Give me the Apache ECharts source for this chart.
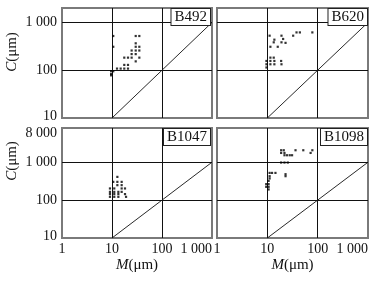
<!DOCTYPE html>
<html><head><meta charset="utf-8">
<script src="https://cdn.jsdelivr.net/npm/echarts@6/dist/echarts.min.js"></script>
<style>html,body{margin:0;padding:0;background:#fff}#c{width:380px;height:282px}</style>
</head><body><div id="c"></div>
<script>
// M (x) and C (y) values in µm
const panelNames = ['B492', 'B620', 'B1047', 'B1098'];
const xTickLabels = [1, 10, 100, 1000];
const yTickLabelsTop = [10, 100, 1000];
const yTickLabelsBottom = [10, 100, 1000, 8000];
const xRange = [1, 1000];
const yRangeTop = [10, 2000];
const yRangeBottom = [10, 8000];
const diagonal = [[10, 10], [1000, 1000]];

const b492 = [[10.6,519],[10.6,309],[29.8,519],[35.2,519],[29.8,365],[29.8,309],[35.2,309],
  [24.7,258],[29.8,258],[35.2,258],[24.7,217],[29.8,217],[17.6,183],[20.9,183],[24.7,183],
  [35.2,183],[29.8,153],[17.6,129],[20.9,129],[12.6,108],[14.9,108],[17.6,108],[20.9,108],
  [9.6,95],[10.6,95],[9.6,83],[9.6,78]];
const b620 = [[11.1,527],[19.1,527],[13.8,435],[20.6,450],[13.4,383],[19.1,383],[23,373],
  [11.5,309],[16.1,309],[32.6,527],[38,617],[44.3,617],[78.4,617],[11.5,183],[13.4,183],
  [9.6,156],[11.5,156],[13.8,156],[18.8,156],[9.6,133],[11.5,133],[13.8,133],[19.1,133],[9.6,114]];
const b1047 = [[12.8,410],[10.6,303],[12.8,303],[15.6,303],[12.8,248],[15.6,248],[9.1,203],
  [11.1,203],[15.6,203],[18.2,203],[9.1,165],[11.1,165],[13.4,165],[15.6,165],[9.1,144],
  [11.1,144],[13.4,144],[18.2,144],[9.1,122],[11.1,122],[13.4,122],[19.1,122]];
const b1098 = [[18.8,2070],[21.2,2070],[36.3,2070],[51.8,2070],[78.4,2070],[18.8,1757],
  [21.9,1757],[72.4,1757],[21.9,1528],[24.6,1528],[27.9,1528],[31,1528],[18.8,980],[21.9,980],
  [25.5,980],[11.1,522],[12.4,522],[14.5,522],[23,483],[11.1,428],[23,428],[11.1,373],
  [10.6,322],[9.5,264],[10.6,264],[9.5,224],[10.6,224],[10.6,191]];
const panelData = [b492, b620, b1047, b1098];

const FONT = '"Liberation Serif", "DejaVu Serif", serif';
const grids = [
  {left: 62, top: 8, width: 150, height: 110},
  {left: 217, top: 8, width: 151, height: 110},
  {left: 62, top: 128, width: 150, height: 110},
  {left: 217, top: 128, width: 151, height: 110}
].map(g => Object.assign(g, {show: true, borderColor: '#7a7a7a', borderWidth: 2, backgroundColor: '#fff'}));

function fmtFactory(allowed, topVal) {
  return function (v) {
    const r = Math.round(v);
    if (allowed.indexOf(r) < 0) return '';
    const s = r >= 1000 ? (r / 1000) + ' 000' : String(r);
    if (r === topVal) return '{t|' + s + '}';
    if (r === 10) return '{b|' + s + '}';
    return s;
  };
}
const labelRich = {
  t: {fontFamily: FONT, fontSize: 14, color: '#111', padding: [10, 0, 0, 0]},
  b: {fontFamily: FONT, fontSize: 14, color: '#111', padding: [0, 0, 4, 0]}
};
const splitLine = {show: true, showMinLine: false, showMaxLine: false, lineStyle: {color: '#111', width: 1}};

const xAxes = [0, 1, 2, 3].map(i => {
  const bottom = i >= 2;
  return {
    type: 'log', logBase: 10, gridIndex: i, min: xRange[0], max: xRange[1],
    axisLine: {show: false}, axisTick: {show: false}, splitLine: splitLine,
    axisLabel: {show: bottom, formatter: fmtFactory(xTickLabels, null), fontFamily: FONT, fontSize: 14,
      color: '#111', margin: 4, alignMaxLabel: 'right', rich: {b: {fontFamily: FONT, fontSize: 14, color: '#111'}}},
    name: bottom ? '{i|M}(μm)' : '', nameLocation: 'middle', nameGap: 20,
    nameTextStyle: {fontFamily: FONT, fontSize: 15, color: '#111',
      rich: {i: {fontStyle: 'italic', fontFamily: FONT, fontSize: 15, color: '#111'}}}
  };
});
const yAxes = [0, 1, 2, 3].map(i => {
  const left = i % 2 === 0;
  const bottom = i >= 2;
  const rng = bottom ? yRangeBottom : yRangeTop;
  return {
    type: 'log', logBase: 10, gridIndex: i, min: rng[0], max: rng[1],
    axisLine: {show: false}, axisTick: {show: false}, splitLine: splitLine,
    axisLabel: {show: left, formatter: fmtFactory(bottom ? yTickLabelsBottom : yTickLabelsTop, 8000),
      fontFamily: FONT, fontSize: 14, color: '#111', margin: 5, rich: labelRich}
  };
});

const series = [];
panelData.forEach((d, i) => {
  series.push({type: 'line', xAxisIndex: i, yAxisIndex: i, data: diagonal, symbol: 'none',
    lineStyle: {color: '#111', width: 0.9}, silent: true, animation: false, z: 2});
  series.push({type: 'scatter', xAxisIndex: i, yAxisIndex: i, data: d, symbol: 'rect',
    symbolSize: 2.2, itemStyle: {color: '#000'}, animation: false, z: 3});
});

const boxRight = [210, 367, 210, 367];
const boxTop = [9, 9, 129, 129];
const graphic = panelNames.map((n, i) => ({
  type: 'text', z: 100,
  x: boxRight[i], y: boxTop[i],
  style: {text: n, font: '15px ' + FONT, fill: '#111', align: 'right', verticalAlign: 'top',
    backgroundColor: '#fff', borderColor: '#222', borderWidth: 1, padding: [1, 3, 0, 3]}
}));
[52, 161].forEach(cy => {
  graphic.push({type: 'text', x: 12, y: cy, rotation: Math.PI / 2,
    style: {text: '{i|C}(μm)', fontFamily: FONT, fontSize: 15, fill: '#111',
      align: 'center', verticalAlign: 'middle',
      rich: {i: {fontStyle: 'italic', fontFamily: FONT, fontSize: 15, fill: '#111'}}}});
});

const chart = echarts.init(document.getElementById('c'), null, {renderer: 'canvas'});
chart.setOption({
  backgroundColor: '#fff', animation: false,
  grid: grids, xAxis: xAxes, yAxis: yAxes, series: series, graphic: graphic
});
</script></body></html>
